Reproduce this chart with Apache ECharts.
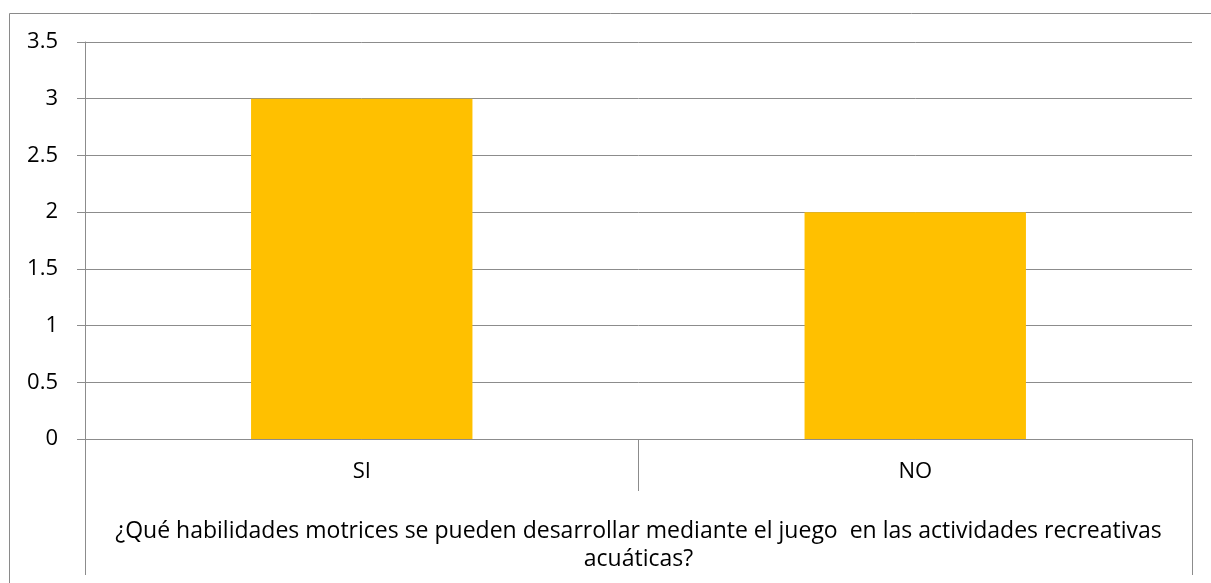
<!DOCTYPE html>
<html>
<head>
<meta charset="utf-8">
<script src="https://cdn.jsdelivr.net/npm/echarts@6/dist/echarts.min.js"></script>
<style>
  html, body { margin: 0; padding: 0; background: #fff; }
  #main { width: 1211px; height: 583px; }
</style>
</head>
<body>
<div id="main"></div>
<script>
// datos del grafico
var categorias = ['SI', 'NO'];
var valores = [3, 2];
var pregunta = '¿Qué habilidades motrices se pueden desarrollar mediante el juego  en las actividades recreativas\nacuáticas?';

var chart = echarts.init(document.getElementById('main'));

var lineColor = '#8c8c8c';
var fontFam = '"Open Sans", sans-serif';

var option = {
  animation: false,
  backgroundColor: '#fff',
  graphic: [{
    type: 'rect',
    shape: { x: 9.5, y: 13.5, width: 1400, height: 800 },
    style: { fill: 'none', stroke: '#8a8a8a', lineWidth: 1 },
    silent: true
  }],
  grid: { left: 85, right: 19, top: 42, bottom: 144 },
  xAxis: [{
    type: 'category',
    data: categorias,
    position: 'bottom',
    axisLine: { show: true, lineStyle: { color: lineColor } },
    axisTick: { show: true, length: 52, lineStyle: { color: lineColor } },
    axisLabel: { margin: 22, fontSize: 22, color: '#000', fontFamily: fontFam },
    splitLine: { show: false }
  }, {
    type: 'category',
    data: [pregunta],
    position: 'bottom',
    axisLine: { show: false },
    axisTick: { show: true, length: 136, lineStyle: { color: lineColor } },
    axisLabel: { margin: 78, fontSize: 23, lineHeight: 28, color: '#000', fontFamily: fontFam, align: 'center' },
    splitLine: { show: false }
  }],
  yAxis: {
    type: 'value',
    min: 0,
    max: 3.5,
    interval: 0.5,
    axisLine: { show: true, lineStyle: { color: lineColor } },
    axisTick: { show: true, length: 8, lineStyle: { color: lineColor } },
    axisLabel: { margin: 27, fontSize: 22, color: '#000', fontFamily: fontFam },
    splitLine: { show: true, lineStyle: { color: lineColor, width: 1 } }
  },
  series: [{
    type: 'bar',
    xAxisIndex: 0,
    data: valores,
    barWidth: '40%',
    itemStyle: { color: '#FFC000' }
  }]
};

chart.setOption(option);
</script>
</body>
</html>
